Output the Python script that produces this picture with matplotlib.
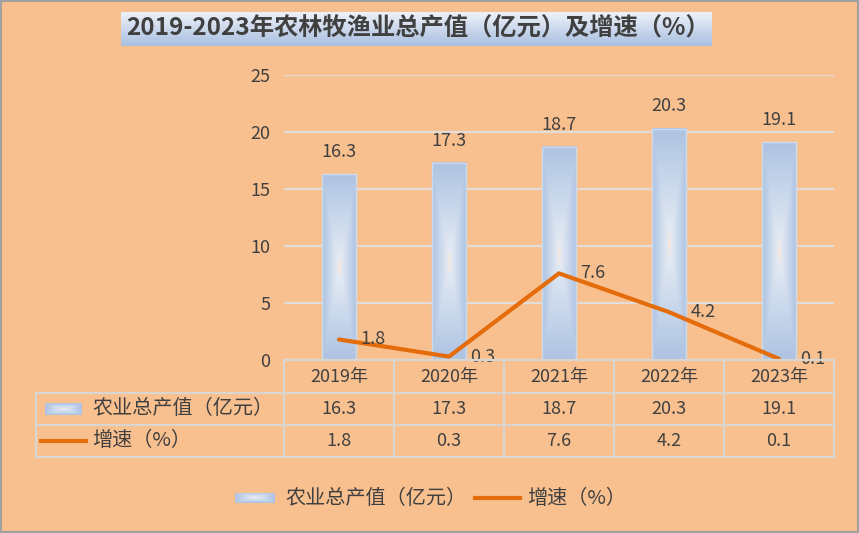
import matplotlib
matplotlib.use("Agg")
import matplotlib.pyplot as plt
import numpy as np
from matplotlib.colors import LinearSegmentedColormap
from matplotlib.patches import Rectangle
from matplotlib.lines import Line2D
import matplotlib.transforms as mtransforms

plt.rcParams['font.family'] = ['Noto Sans CJK SC', 'DejaVu Sans']

# ---- data ----
categories = ['2019年', '2020年', '2021年', '2022年', '2023年']
output_value = [16.3, 17.3, 18.7, 20.3, 19.1]
growth_rate = [1.8, 0.3, 7.6, 4.2, 0.1]
series_names = ['农业总产值（亿元）', '增速（%）']
title = '2019-2023年农林牧渔业总产值（亿元）及增速（%）'
yticks = [0, 5, 10, 15, 20, 25]

BG = '#F9C08F'
TXT = '#404040'
LINE = '#E46C0A'
GRID = '#E2DDD8'
W, H = 859, 533
NUM_FS = 13
CN_FS = 14.5

bar_cmap = LinearSegmentedColormap.from_list(
    'bar', [(0.0, '#FBE6D8'), (0.12, '#E2E9F3'), (0.55, '#C8D7EB'), (1.0, '#AEC3E2')])
title_cmap = LinearSegmentedColormap.from_list('title', ['#EEF2F9', '#CBD8EC', '#A9BFE0'])

fig = plt.figure(figsize=(W / 100, H / 100), dpi=100, facecolor=BG)
fig.patches.append(Rectangle((0.001, 0.001), 0.998, 0.997, transform=fig.transFigure,
                             fill=False, edgecolor='#A0A0A0', linewidth=1.5, zorder=0))

def fx(px):
    return px / W

def fy(py):
    return 1 - py / H

# main axes
ax = fig.add_axes([fx(284), fy(360), fx(834) - fx(284), fy(75) - fy(360)])
ax.set_facecolor('none')
x = np.arange(len(categories))
bars = ax.bar(x, output_value, width=0.31, color='none', edgecolor='#CCDAEE', linewidth=1.0, zorder=3)

# gradient fill for bars (rectangular gradient)
for b in bars:
    x0, w, h = b.get_x(), b.get_width(), b.get_height()
    nx, ny = 60, 300
    u = np.abs(np.linspace(-1, 1, nx))[None, :]
    v = np.abs(np.linspace(-1, 1, ny))[:, None]
    d = np.maximum(u * np.ones((ny, 1)), v * np.ones((1, nx)))
    ax.imshow(d, cmap=bar_cmap, extent=(x0, x0 + w, 0, h), aspect='auto',
              interpolation='bilinear', zorder=2, vmin=0, vmax=1)

ax.plot(x, growth_rate, color=LINE, linewidth=3.0, zorder=4, solid_capstyle='round')

ax.set_xlim(-0.5, len(categories) - 0.5)
ax.set_ylim(0, 25)
ax.set_yticks(yticks)
ax.set_xticks([])
ax.yaxis.grid(True, color=GRID, linewidth=1.6)
ax.set_axisbelow(True)
for s in ax.spines.values():
    s.set_visible(False)
ax.tick_params(axis='y', length=0, pad=10, labelsize=NUM_FS, labelcolor=TXT)

for xi, v in zip(x, output_value):
    ax.annotate(f'{v}', (xi, v), xytext=(0, 16), textcoords='offset points',
                ha='center', va='center', fontsize=NUM_FS, color=TXT, zorder=5)
for xi, v in zip(x, growth_rate):
    ax.annotate(f'{v}', (xi, v), xytext=(15.5, 0), textcoords='offset points',
                ha='left', va='center', fontsize=NUM_FS, color=TXT, zorder=5)

# ---- data table ----
tr = mtransforms.blended_transform_factory(ax.transData, fig.transFigure)
TCOL = '#D9D6D2'
row_y = [360, 393, 425, 457]
edges = np.arange(len(categories) + 1) - 0.5
fig.add_artist(Line2D([edges[0], edges[-1]], [fy(360), fy(360)], transform=tr, color=TCOL, lw=1.6))
for yy in row_y[1:]:
    fig.add_artist(Line2D([fx(36), fx(834)], [fy(yy), fy(yy)], transform=fig.transFigure, color=TCOL, lw=1.6))
for e in edges:
    fig.add_artist(Line2D([e, e], [fy(360), fy(457)], transform=tr, color=TCOL, lw=1.6))
fig.add_artist(Line2D([fx(36), fx(36)], [fy(393), fy(457)], transform=fig.transFigure, color=TCOL, lw=1.6))

for xi, c, v1, v2 in zip(x, categories, output_value, growth_rate):
    fig.text(xi, fy(377), c, transform=tr, ha='center', va='center', fontsize=NUM_FS, color=TXT)
    fig.text(xi, fy(409), f'{v1}', transform=tr, ha='center', va='center', fontsize=NUM_FS, color=TXT)
    fig.text(xi, fy(441), f'{v2}', transform=tr, ha='center', va='center', fontsize=NUM_FS, color=TXT)

def bar_key(x0, x1, yc, hgt):
    kax = fig.add_axes([fx(x0), fy(yc + hgt / 2), fx(x1) - fx(x0), (hgt) / H])
    kax.axis('off')
    nx, ny = 60, 20
    u = np.abs(np.linspace(-1, 1, nx))[None, :] * np.ones((ny, 1))
    v = np.abs(np.linspace(-1, 1, ny))[:, None] * np.ones((1, nx))
    kax.imshow(np.maximum(u, v), cmap=bar_cmap, aspect='auto', interpolation='bilinear', vmin=0, vmax=1)

bar_key(45, 82, 409, 12)
fig.add_artist(Line2D([fx(41), fx(86)], [fy(441), fy(441)], transform=fig.transFigure, color=LINE, lw=3.0))
fig.text(fx(92), fy(409), series_names[0], ha='left', va='center', fontsize=CN_FS, color=TXT)
fig.text(fx(92), fy(441), series_names[1], ha='left', va='center', fontsize=CN_FS, color=TXT)

# ---- bottom legend ----
bar_key(235, 275, 498, 11)
fig.text(fx(285), fy(498), series_names[0], ha='left', va='center', fontsize=CN_FS, color=TXT)
fig.add_artist(Line2D([fx(475), fx(520)], [fy(498), fy(498)], transform=fig.transFigure, color=LINE, lw=3.0))
fig.text(fx(527), fy(498), series_names[1], ha='left', va='center', fontsize=CN_FS, color=TXT)

# ---- title box ----
tax = fig.add_axes([fx(121), fy(46), fx(712) - fx(121), (46 - 12) / H])
tax.axis('off')
grad = np.linspace(0, 1, 100)[:, None] * np.ones((1, 10))
tax.imshow(grad, cmap=title_cmap, aspect='auto', interpolation='bilinear')
fig.text(fx(126), fy(29), title, ha='left', va='center', fontsize=17.5,
         fontweight='bold', color=TXT)

fig.savefig('out.png', dpi=100, facecolor=BG)
